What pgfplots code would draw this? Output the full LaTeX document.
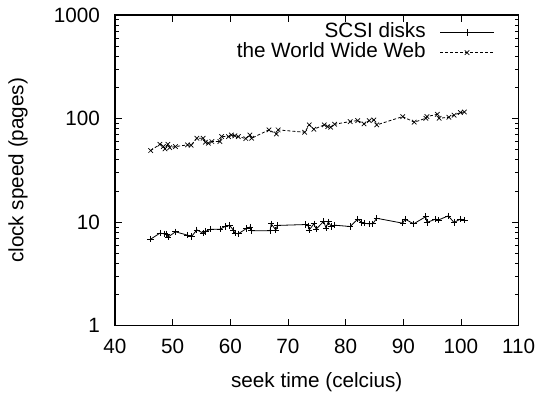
\documentclass[border=0pt]{standalone}
\usepackage{pgfplots}
\pgfplotsset{compat=1.18}
\usepackage{fontspec}
\setmainfont{Liberation Sans}
\begin{document}
\fontsize{20.7bp}{24bp}\selectfont
\begin{tikzpicture}
\begin{axis}[
  scale only axis, width=404bp, height=311bp,
  xmin=40, xmax=110, ymode=log, ymin=1, ymax=1000,
  xtick={40,50,...,110},
  ytick={1,10,100,1000}, yticklabels={1,10,100,1000},
  /pgf/number format/assume math mode=true,
  tick align=inside, major tick length=7bp, minor tick length=4bp,
  tick style={black, line width=0.8bp},
  axis line style={line width=1.2bp},
  xtick pos=both, ytick pos=both,
  yticklabel style={xshift=-8bp},
  xticklabel style={yshift=-6bp},
  xlabel={seek time (celcius)}, ylabel={clock speed (pages)},
  xlabel style={at={(axis description cs:0.5,-0.180)}, anchor=center},
  ylabel style={at={(axis description cs:-0.240,0.5)}, anchor=center, rotate=0},
  legend plot pos=right, legend cell align=right,
  legend style={draw=none, fill=none, at={(axis description cs:0.9406,0.971)}, anchor=north east,
    inner sep=0pt, row sep=3bp, column sep=14bp, nodes={inner sep=0pt, text height=13bp, text depth=4bp}},
  legend image code/.code={\draw[#1,mark repeat=2,mark phase=2] plot coordinates {(0bp,0bp) (27bp,0bp) (54bp,0bp)};},
]
\addplot[black, line width=0.8bp, mark=+, mark size=3.2bp, mark options={solid, line width=0.7bp}] coordinates {
(46.2,6.86) (47.8,7.83) (48.6,7.72) (49.0,7.67) (49.2,7.17) (50.5,8.07) (52.6,7.49) (53.3,7.27)
(54.2,8.43) (55.3,7.83) (55.7,8.13) (56.6,8.56) (58.2,8.56) (59.1,9.08) (59.9,9.29) (60.5,8.43)
(60.8,7.83) (61.4,7.72) (62.8,8.69) (63.4,8.96) (63.7,8.25) (66.9,8.25) (67.1,9.64) (67.9,8.4)
(68.2,9.3) (73.1,9.49) (73.5,9.22) (73.7,8.43) (74.5,9.64) (74.9,8.56) (76.2,10.2) (76.6,8.75)
(77.0,10.1) (77.5,9.08) (78.1,9.35) (80.8,9.08) (82.1,10.7) (82.8,9.93) (83.2,9.78) (84.1,9.64)
(84.7,9.64) (85.4,10.9) (89.9,9.78) (90.3,10.7) (91.8,9.64) (93.9,11.3) (94.1,9.93) (95.6,10.7)
(96.1,10.5) (97.8,11.5) (98.8,9.93) (99.9,10.7) (100.6,10.5)
};
\addlegendentry{SCSI disks}
\addplot[black, line width=0.8bp, dash pattern=on 3bp off 2bp, mark=x, mark size=3.2bp, mark options={solid, line width=0.7bp}] coordinates {
(46.2,49.1) (47.8,56.5) (48.4,53.7) (48.7,51.0) (49.2,56.5) (49.5,52.5) (50.5,53.7) (52.6,55.7)
(53.2,55.3) (54.2,64.6) (55.3,64.6) (55.7,59.1) (56.2,57.8) (56.8,60.0) (58.2,60.0) (58.5,67.0)
(59.7,67.0) (60.2,69.5) (60.8,68.1) (61.4,67.0) (62.7,64.1) (63.4,69.5) (63.7,64.6) (66.7,77.8)
(68.0,71.1) (68.3,77.8) (72.9,73.8) (73.7,86.9) (74.5,78.9) (76.3,86.9) (76.9,83.7) (77.4,82.5)
(78.1,88.2) (80.8,93.6) (82.1,95.7) (83.2,88.9) (84.1,95.7) (84.9,97.1) (85.4,86.9) (89.9,104.5)
(91.9,92.2) (93.9,100.7) (94.1,104.5) (95.9,110) (96.2,100.7) (97.9,103) (98.8,107.7) (99.9,114.3)
(100.6,115.9)
};
\addlegendentry{the World Wide Web}
\end{axis}
\path ([shift={(-115bp,-66bp)}]current axis.south west) rectangle ([shift={(23bp,15bp)}]current axis.north east);
\end{tikzpicture}
\end{document}
